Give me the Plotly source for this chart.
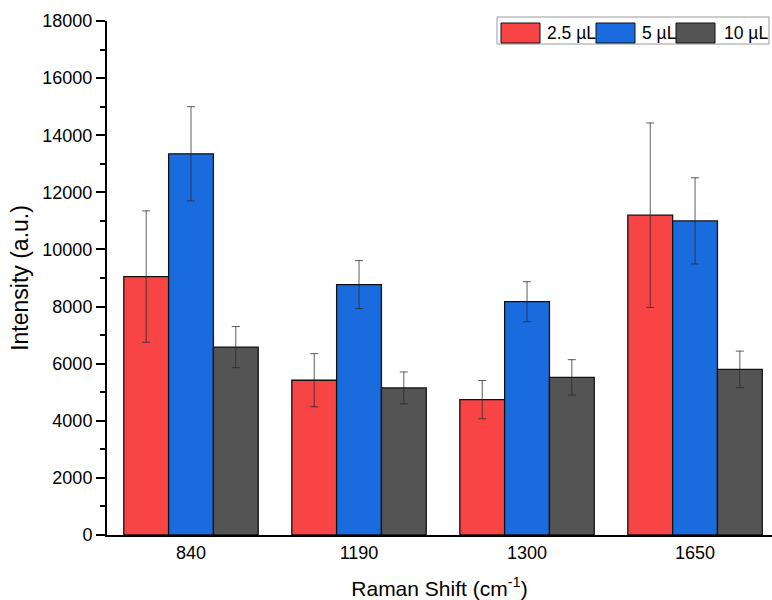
import plotly.graph_objects as go

# Raman peak positions (cm^-1) used as categories
categories = ["840", "1190", "1300", "1650"]

# Mean intensities (a.u.) and standard deviations for each sample volume
vol_2p5 = [9050, 5420, 4740, 11200]
vol_2p5_err = [2300, 930, 670, 3230]

vol_5 = [13350, 8770, 8170, 11000]
vol_5_err = [1650, 840, 700, 1510]

vol_10 = [6580, 5150, 5520, 5800]
vol_10_err = [720, 560, 620, 640]

series_names = ["2.5 µL", "5 µL", "10 µL"]
series_colors = ["#F84444", "#1A6BDE", "#545454"]

FONT = "Liberation Sans, Arial, sans-serif"

W, H = 772, 600
M_L, M_R, M_T, M_B = 107, 0, 21, 65
PLOT_W = W - M_L - M_R
PLOT_H = H - M_T - M_B

fig = go.Figure()
for name, vals, errs, col in zip(
    series_names,
    [vol_2p5, vol_5, vol_10],
    [vol_2p5_err, vol_5_err, vol_10_err],
    series_colors,
):
    fig.add_trace(
        go.Bar(
            x=categories,
            y=vals,
            name=name,
            marker=dict(color=col, line=dict(color="#111111", width=1.3)),
            error_y=dict(
                type="data",
                array=errs,
                visible=True,
                color="rgba(40,40,40,0.75)",
                thickness=1,
                width=4,
            ),
            showlegend=False,
        )
    )


# Boxed legend with wide colour swatches; positions given in figure pixels
def px_x(x):
    return (x - M_L) / PLOT_W


def px_y(y):
    return (H - M_B - y) / PLOT_H


shapes = [
    dict(type="rect", xref="paper", yref="paper",
         x0=px_x(497), x1=px_x(769), y0=px_y(44), y1=px_y(17),
         line=dict(color="#9a9a9a", width=1), fillcolor="white", layer="above")
]
annotations = []
legend_layout = [(501, 545), (596, 640), (676, 722)]
for (sx, tx), name, col in zip(legend_layout, series_names, series_colors):
    shapes.append(
        dict(type="rect", xref="paper", yref="paper",
             x0=px_x(sx), x1=px_x(sx + 39), y0=px_y(43), y1=px_y(23),
             line=dict(color="#111111", width=1), fillcolor=col, layer="above")
    )
    annotations.append(
        dict(text=name, xref="paper", yref="paper",
             x=px_x(tx), y=px_y(33), xanchor="left", yanchor="middle",
             showarrow=False, font=dict(family=FONT, size=17.5, color="black"))
    )

fig.update_layout(
    width=W,
    height=H,
    margin=dict(l=M_L, r=M_R, t=M_T, b=M_B),
    paper_bgcolor="white",
    plot_bgcolor="white",
    barmode="group",
    bargap=0.2,
    bargroupgap=0,
    font=dict(family=FONT, size=18, color="black"),
    shapes=shapes,
    annotations=annotations,
    xaxis=dict(
        range=[-0.5, 3.458],
        showline=True,
        linecolor="black",
        linewidth=2,
        ticks="",
        showgrid=False,
        zeroline=False,
        tickfont=dict(family=FONT, size=18, color="black"),
        title=dict(text="Raman Shift (cm<sup>-1</sup>)",
                   font=dict(family=FONT, size=21, color="black"), standoff=20),
    ),
    yaxis=dict(
        range=[0, 18000],
        tickvals=list(range(0, 18001, 2000)),
        tickformat="d",
        showline=True,
        linecolor="black",
        linewidth=2,
        ticks="outside",
        ticklen=9,
        tickwidth=1.5,
        tickcolor="black",
        minor=dict(tickvals=list(range(1000, 18000, 2000)), ticks="outside",
                   ticklen=5, tickwidth=1.5, tickcolor="black", showgrid=False),
        showgrid=False,
        zeroline=False,
        tickfont=dict(family=FONT, size=18, color="black"),
        title=dict(text="Intensity (a.u.)",
                   font=dict(family=FONT, size=23, color="black"), standoff=7),
    ),
)

fig.write_html("out.html")
